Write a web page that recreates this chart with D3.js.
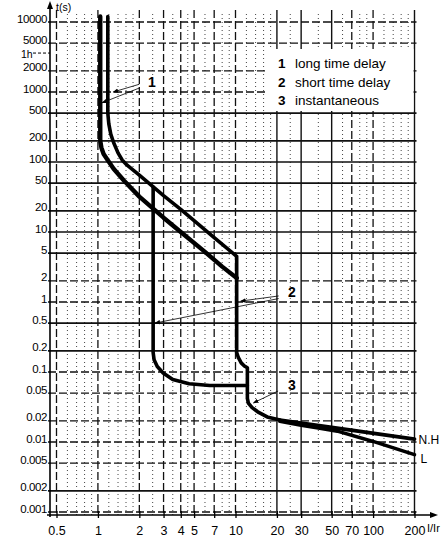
<!DOCTYPE html>
<html><head><meta charset="utf-8">
<script src="https://cdn.jsdelivr.net/npm/d3@7"></script>
<style>
body{margin:0;background:#fff}
svg{display:block;font-family:"Liberation Sans",Arial,Helvetica,sans-serif}
</style>
</head><body>
<svg id="c" width="441" height="537"></svg>
<script>
// ---------- data ----------
const xTicks = [0.5,1,2,3,4,5,7,10,20,30,50,70,100,200];
const xTickLabels = ["0.5","1","2","3","4","5","7","10","20","30","50","70","100","200"];
const xSolid = [20,30,50,200];
const xMinor = [0.6,0.7,0.8,0.9,1.2,1.4,1.6,1.8,2.5,3.5,4.5,6,8,9,12,14,16,18,25,40,60,80,90,120,140,160,180];
const yTicks = [10000,5000,2000,1000,500,200,100,50,20,10,5,2,1,0.5,0.2,0.1,0.05,0.02,0.01,0.005,0.002,0.001];
const yTickLabels = ["10000","5000","2000","1000","500","200","100","50","20","10","5","2","1","0.5","0.2","0.1","0.05","0.02","0.01","0.005","0.002","0.001"];
const ySolid = [500,200,100,50,20,10,5,0.5,0.2,0.002];
const hourMark = 3600;

// long time delay, lower boundary
const curveA = [[1.04,12000],[1.04,200],[1.06,160],[1.1,130],[1.18,106],[1.3,80],[1.55,54],[2,32],[3,16],[4,10],[6,5.2],[8,3.2],[10.2,2.2]];
// long time + short time delay, upper boundary, down to instantaneous
const curveB = [[1.18,12000],[1.18,500],[1.2,350],[1.24,250],[1.3,190],[1.4,135],[1.5,107],[1.63,90],[2,65],[3,33],[4,21],[5,14.5],[7,8.3],[10.2,4.5],[10.2,0.19],[10.5,0.16],[11,0.135],[11.6,0.122],[12.2,0.115],[12.2,0.042],[12.4,0.036],[13.2,0.031],[14.5,0.027],[17,0.0228],[21,0.0206]];
// short time pickup / delay (curve at 2.5 Ir)
const curveC = [[2.52,44],[2.52,0.19],[2.56,0.15],[2.7,0.12],[2.98,0.097],[3.5,0.078],[4.6,0.068],[6.5,0.064],[12.2,0.064]];
// instantaneous tails
const tailNH = [[21,0.0206],[50,0.0162],[200,0.011]];
const tailL = [[21,0.0198],[30,0.0174],[40,0.0158],[55,0.0143],[100,0.0102],[200,0.0066]];

const legendItems = [["1","long time delay"],["2","short time delay"],["3","instantaneous"]];
// annotation leaders: [fromI, fromT, toI, toT]
const leaders1 = [[2.0,1290,1.29,1000],[2.0,1140,1.07,700]];
const leaders2 = [[20.6,1.22,10.9,1.03],[20.6,1.12,2.6,0.5]];
const leaders3 = [[20.4,0.0535,13.5,0.0362]];

// ---------- scales ----------
const svg = d3.select("#c");
const x = d3.scaleLog().domain([0.5,200]).range([56.5,414.5]);
const y = d3.scaleLog().domain([0.001,10000]).range([512,22]);
const pTop = 14, pBottom = 515, pLeft = 50, pRight = x(200)+2;

// minor dotted verticals
svg.append("g").selectAll("line").data(xMinor).join("line")
  .attr("x1",d=>x(d)).attr("x2",d=>x(d)).attr("y1",pTop).attr("y2",pBottom)
  .attr("stroke","#444").attr("stroke-width",1).attr("stroke-dasharray","1,3");

// major verticals
svg.append("g").selectAll("line").data(xTicks).join("line")
  .attr("x1",d=>x(d)).attr("x2",d=>x(d)).attr("y1",pTop-4).attr("y2",pBottom)
  .attr("stroke","#111").attr("stroke-width",d=>xSolid.includes(d)?1.4:1.3)
  .attr("stroke-dasharray",d=>xSolid.includes(d)?null:"8,3");

// horizontals
svg.append("g").selectAll("line").data(yTicks).join("line")
  .attr("x1",pLeft-2).attr("x2",pRight).attr("y1",d=>y(d)).attr("y2",d=>y(d))
  .attr("stroke","#111").attr("stroke-width",d=>ySolid.includes(d)?1.7:1.3)
  .attr("stroke-dasharray",d=>ySolid.includes(d)?null:"8,3");

// legend box
const lg = svg.append("g");
lg.append("rect").attr("x",268).attr("y",49).attr("width",x(200)-269).attr("height",62).attr("fill","#fff");
legendItems.forEach((d,i)=>{
  lg.append("text").attr("x",278).attr("y",68+i*18.5).attr("font-size",13.5).attr("font-weight","bold").text(d[0]);
  lg.append("text").attr("x",295).attr("y",68+i*18.5).attr("font-size",13.5).text(d[1]);
});

// y axis
const yAxis = d3.axisLeft(y).tickValues(yTicks).tickFormat((d,i)=>yTickLabels[i]).tickSize(0).tickPadding(0);
const ya = svg.append("g").attr("transform",`translate(${pLeft-3},0)`).call(yAxis);
ya.select(".domain").remove();
ya.selectAll("text").attr("dy","0").attr("font-size",11.5).attr("fill","#000").attr("font-family","Liberation Sans, Arial, sans-serif").attr("letter-spacing","-0.4");
svg.append("line").attr("x1",pLeft).attr("x2",pLeft).attr("y1",pBottom+2).attr("y2",4).attr("stroke","#000").attr("stroke-width",1.6);
svg.append("path").attr("d",`M${pLeft},1 L${pLeft-3},9 L${pLeft+3},9 Z`).attr("fill","#000");
svg.append("text").attr("x",56).attr("y",11).attr("font-size",10.5).text("t(s)");
// 1h marker
svg.append("text").attr("x",21).attr("y",y(hourMark)+4.5).attr("font-size",10.5).text("1h");
svg.append("line").attr("x1",33).attr("x2",pLeft).attr("y1",y(hourMark)).attr("y2",y(hourMark))
  .attr("stroke","#000").attr("stroke-width",1).attr("stroke-dasharray","3,2");

// x axis
const xAxis = d3.axisBottom(x).tickValues(xTicks).tickFormat((d,i)=>xTickLabels[i]).tickSize(4).tickPadding(8);
const xa = svg.append("g").attr("transform",`translate(0,${pBottom})`).call(xAxis);
xa.select(".domain").remove();
xa.selectAll(".tick line").attr("y1",-4).attr("y2",3).attr("stroke","#000").attr("stroke-width",1.3);
xa.selectAll("text").attr("font-size",12.5).attr("fill","#000").attr("font-family","Liberation Sans, Arial, sans-serif").attr("dy","0.65em");
svg.append("line").attr("x1",pLeft-3).attr("x2",434).attr("y1",pBottom).attr("y2",pBottom).attr("stroke","#000").attr("stroke-width",1.4);
svg.append("path").attr("d",`M438,${pBottom} L430,${pBottom-3} L430,${pBottom+3} Z`).attr("fill","#000");
svg.append("text").attr("x",427).attr("y",532).attr("font-size",11).text("I/Ir");

// curves
const line = d3.line().x(d=>x(d[0])).y(d=>y(d[1]));
const cg = svg.append("g").attr("fill","none").attr("stroke","#000").attr("stroke-linejoin","round").attr("stroke-linecap","round");
cg.append("path").attr("d",line(curveA)).attr("stroke-width",4.4);
cg.append("path").attr("d",line(curveB)).attr("stroke-width",3.6);
cg.append("path").attr("d",line(curveC)).attr("stroke-width",3.6);
cg.append("path").attr("d",line(tailNH)).attr("stroke-width",3.8);
cg.append("path").attr("d",line(tailL)).attr("stroke-width",3.6);

// leaders with arrowheads
svg.append("defs").append("marker").attr("id","arr").attr("viewBox","0 0 10 10").attr("refX",9).attr("refY",5)
  .attr("markerWidth",7).attr("markerHeight",7).attr("orient","auto-start-reverse")
  .append("path").attr("d","M0,1 L10,5 L0,9 Z").attr("fill","#000");
const ldg = svg.append("g");
[...leaders1,...leaders2,...leaders3].forEach(d=>{
  ldg.append("line").attr("x1",x(d[0])).attr("y1",y(d[1])).attr("x2",x(d[2])).attr("y2",y(d[3]))
    .attr("stroke","#000").attr("stroke-width",0.8).attr("marker-end","url(#arr)");
});
const annot = [["1",152,87],["2",292,297],["3",292,390]];
annot.forEach(a=>{
  svg.append("text").attr("x",a[1]).attr("y",a[2]).attr("text-anchor","middle").attr("font-size",14).attr("font-weight","bold").text(a[0]);
});
// tail labels
svg.append("text").attr("x",x(200)+4).attr("y",y(0.011)+5).attr("font-size",12).text("N.H");
svg.append("text").attr("x",x(200)+6).attr("y",y(0.0066)+8).attr("font-size",12).text("L");
</script>
</body></html>
